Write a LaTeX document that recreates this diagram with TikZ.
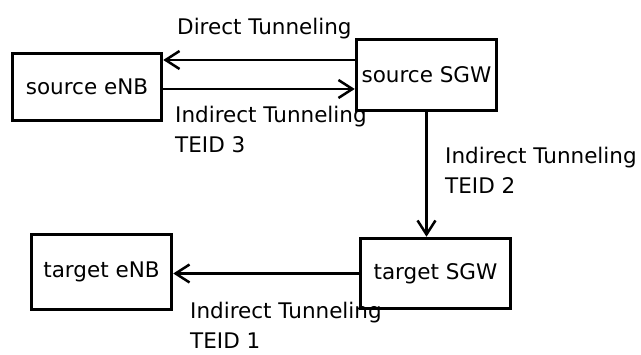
\documentclass[tikz,border=0pt]{standalone}
\usepackage{fontspec}
\setmainfont{DejaVu Sans}
\usetikzlibrary{arrows.meta, positioning, calc}

\begin{document}
\begin{tikzpicture}[x=1pt, y=-1pt, every node/.style={font=\fontsize{21.5}{30}\selectfont}]
\tikzstyle{bx}=[draw, line width=3.5pt, minimum height=70pt, minimum width=148pt, align=center, inner sep=2pt]
\tikzstyle{ar}=[-{Straight Barb[length=14pt, width=18pt, line width=2.5pt]}, line width=2.5pt]
\tikzstyle{lb}=[anchor=base west, align=left, inner sep=0pt]

\useasboundingbox (0,0) rectangle (641,355);

\node[bx, minimum width=149pt, minimum height=67pt](senb) at (87,87){source eNB};
\node[bx, minimum width=140pt, minimum height=71pt](ssgw) at (426.5,75){source SGW};
\node[bx, minimum width=140pt, minimum height=75pt](tenb) at (101.5,272){target eNB};
\node[bx, minimum width=150pt, minimum height=70pt](tsgw) at (435.5,273.5){target SGW};

\draw[ar](ssgw.west |- 0,60)--(senb.east |- 0,60);
\draw[ar](senb.east |- 0,89)--(ssgw.west |- 0,89);
\draw[ar](ssgw.south)--(ssgw.south |- tsgw.north);
\draw[ar](tsgw.west)--(tenb.east |- tsgw.west);

% base of a two-line label is its last line
\node[lb](ldir) at (177,35){Direct Tunneling};
\node[lb](lind3) at (175,153){Indirect Tunneling\\TEID 3};
\node[lb](lind2) at (445,194){Indirect Tunneling\\TEID 2};
\node[lb](lind1) at (190,349){Indirect Tunneling\\TEID 1};
\end{tikzpicture}
\end{document}
